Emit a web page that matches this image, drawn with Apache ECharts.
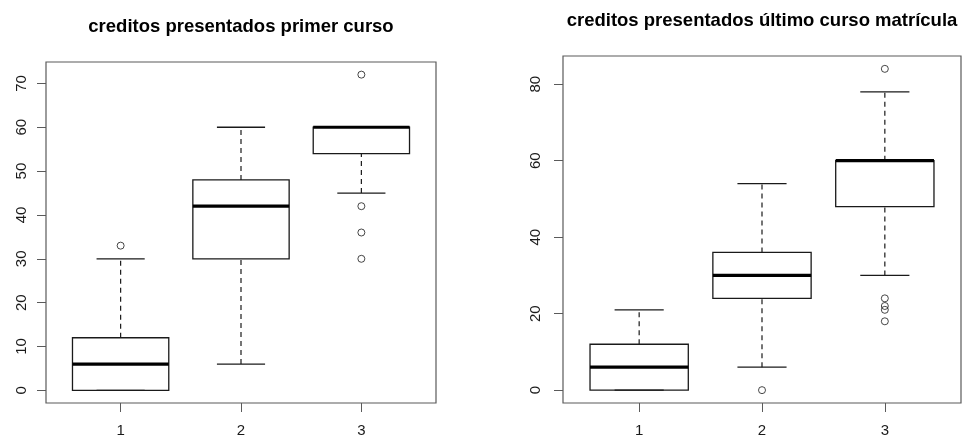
<!DOCTYPE html>
<html>
<head>
<meta charset="utf-8">
<script src="https://cdn.jsdelivr.net/npm/echarts@6/dist/echarts.min.js"></script>
<style>
  html, body { margin: 0; padding: 0; background: #fff; }
  #chart { width: 962px; height: 438px; }
</style>
</head>
<body>
<div id="chart"></div>
<script>
// Group labels shared by both panels
var groups = [1, 2, 3];
var groupLabels = ['1', '2', '3'];

// Panel A: créditos presentados en primer curso
var titleA = 'creditos presentados primer curso';
var lowA = [0, 6, 45];
var q1A = [0, 30, 54];
var medA = [6, 42, 60];
var q3A = [12, 48, 60];
var highA = [30, 60, 60];
var outGroupA = [1, 3, 3, 3, 3];
var outValA = [33, 72, 42, 36, 30];
var ticksA = [0, 10, 20, 30, 40, 50, 60, 70];

// Panel B: créditos presentados en el último curso de matrícula
var titleB = 'creditos presentados último curso matrícula';
var lowB = [0, 6, 30];
var q1B = [0, 24, 48];
var medB = [6, 30, 60];
var q3B = [12, 36, 60];
var highB = [21, 54, 78];
var outGroupB = [2, 3, 3, 3, 3, 3];
var outValB = [0, 84, 24, 22, 21, 18];
var ticksB = [0, 20, 40, 60, 80];

var FONT = '"Liberation Sans", Arial, sans-serif';
var FRAME = '#5a5a5a';
var INK = '#1a1a1a';

function boxRows(low, q1, med, q3, high) {
  return groups.map(function (g, i) {
    return [g, low[i], q1[i], med[i], q3[i], high[i]];
  });
}
function pointRows(gs, vs) {
  return gs.map(function (g, i) { return [g, vs[i]]; });
}

// R-style boxplot glyph: box, thick median, dashed whiskers, staples
function renderBox(params, api) {
  var x = api.value(0);
  var low = api.value(1), q1 = api.value(2), med = api.value(3),
      q3 = api.value(4), high = api.value(5);
  var half = api.size([0.8, 0])[0] / 2;
  var capHalf = api.size([0.4, 0])[0] / 2;
  var pLow = api.coord([x, low]), pQ1 = api.coord([x, q1]),
      pMed = api.coord([x, med]), pQ3 = api.coord([x, q3]),
      pHigh = api.coord([x, high]);
  var cx = pMed[0];
  var dash = { stroke: INK, lineWidth: 1.2, lineDash: [5, 4] };
  var solid = { stroke: INK, lineWidth: 1.3 };
  return {
    type: 'group',
    children: [
      { type: 'line', shape: { x1: cx, y1: pLow[1], x2: cx, y2: pQ1[1] }, style: dash },
      { type: 'line', shape: { x1: cx, y1: pQ3[1], x2: cx, y2: pHigh[1] }, style: dash },
      { type: 'line', shape: { x1: cx - capHalf, y1: pLow[1], x2: cx + capHalf, y2: pLow[1] }, style: solid },
      { type: 'line', shape: { x1: cx - capHalf, y1: pHigh[1], x2: cx + capHalf, y2: pHigh[1] }, style: solid },
      { type: 'rect', shape: { x: cx - half, y: pQ3[1], width: half * 2, height: pQ1[1] - pQ3[1] },
        style: { fill: 'rgba(0,0,0,0)', stroke: INK, lineWidth: 1.3 } },
      { type: 'line', shape: { x1: cx - half, y1: pMed[1], x2: cx + half, y2: pMed[1] },
        style: { stroke: '#000', lineWidth: 3.2 } }
    ]
  };
}

function xAxisFor(gridIndex) {
  return {
    type: 'value', gridIndex: gridIndex, min: 0.38, max: 3.62,
    position: 'bottom',
    splitLine: { show: false },
    axisLine: { show: false, onZero: false },
    axisTick: { show: true, length: 9, inside: false, customValues: groups,
                lineStyle: { color: FRAME, width: 1 } },
    axisLabel: { show: true, customValues: groups, margin: 20,
                 formatter: function (v) { return groupLabels[groups.indexOf(v)] || ''; },
                 fontFamily: FONT, fontSize: 15, color: INK }
  };
}
function yAxisFor(gridIndex, min, max, ticks, margin) {
  return {
    type: 'value', gridIndex: gridIndex, min: min, max: max,
    position: 'left',
    splitLine: { show: false },
    axisLine: { show: false, onZero: false },
    axisTick: { show: true, length: 9, inside: false, customValues: ticks,
                lineStyle: { color: FRAME, width: 1 } },
    axisLabel: { show: true, customValues: ticks, rotate: 90, margin: margin,
                 fontFamily: FONT, fontSize: 15, color: INK }
  };
}

var option = {
  backgroundColor: '#fff',
  animation: false,
  title: [
    { text: titleA, left: 236, top: 12, textAlign: 'center',
      textStyle: { fontFamily: FONT, fontSize: 18.5, fontWeight: 'bold', color: '#000' } },
    { text: titleB, left: 757, top: 6, textAlign: 'center',
      textStyle: { fontFamily: FONT, fontSize: 18.5, fontWeight: 'bold', color: '#000' } }
  ],
  grid: [
    { left: 46, top: 62, width: 390, height: 341, show: true,
      borderColor: FRAME, borderWidth: 1.2, backgroundColor: 'transparent' },
    { left: 563, top: 56, width: 398, height: 348, show: true,
      borderColor: FRAME, borderWidth: 1.2, backgroundColor: 'transparent' }
  ],
  xAxis: [xAxisFor(0), xAxisFor(1)],
  yAxis: [yAxisFor(0, -2.88, 74.88, ticksA, 17), yAxisFor(1, -3.36, 87.36, ticksB, 20)],
  series: [
    { type: 'custom', xAxisIndex: 0, yAxisIndex: 0, renderItem: renderBox,
      encode: { x: 0, y: [1, 2, 3, 4, 5] }, data: boxRows(lowA, q1A, medA, q3A, highA), z: 3 },
    { type: 'scatter', xAxisIndex: 0, yAxisIndex: 0, symbol: 'circle', symbolSize: 7,
      itemStyle: { color: 'rgba(0,0,0,0)', borderColor: INK, borderWidth: 1 },
      data: pointRows(outGroupA, outValA), z: 4 },
    { type: 'custom', xAxisIndex: 1, yAxisIndex: 1, renderItem: renderBox,
      encode: { x: 0, y: [1, 2, 3, 4, 5] }, data: boxRows(lowB, q1B, medB, q3B, highB), z: 3 },
    { type: 'scatter', xAxisIndex: 1, yAxisIndex: 1, symbol: 'circle', symbolSize: 7,
      itemStyle: { color: 'rgba(0,0,0,0)', borderColor: INK, borderWidth: 1 },
      data: pointRows(outGroupB, outValB), z: 4 }
  ]
};

var chart = echarts.init(document.getElementById('chart'), null, { renderer: 'canvas' });
chart.setOption(option);
</script>
</body>
</html>
